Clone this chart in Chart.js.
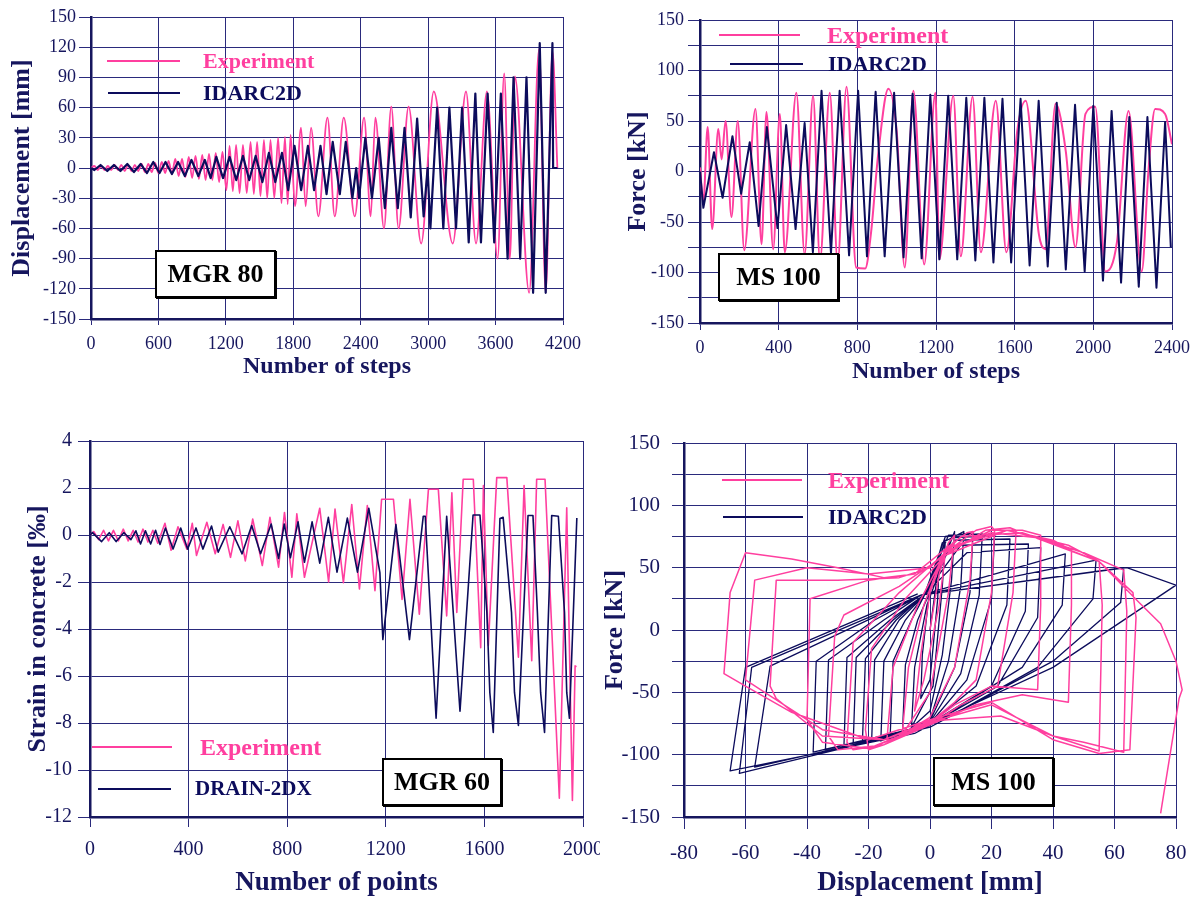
<!DOCTYPE html>
<html lang="en">
<head>
<meta charset="utf-8">
<title>MGR 80 · MS 100 · MGR 60 — experiment vs. analysis</title>
<script src="https://cdn.jsdelivr.net/npm/chart.js@4.4.1/dist/chart.umd.min.js"></script>
<style>
  body { margin: 0; background: #fff; }
  #fig { position: relative; width: 1194px; height: 897px; background: #fff; overflow: hidden;
         font-family: "Liberation Serif", "Times New Roman", serif; }
  #fig canvas { position: absolute; }
  .key-line { position: absolute; height: 2px; }
  .key-text { position: absolute; font-weight: bold; line-height: 1; white-space: nowrap; }
  .tag { position: absolute; box-sizing: border-box; border: 2px solid #000; box-shadow: 1px 1px 0 #000;
         background: #fff; display: flex; align-items: center; justify-content: center;
         font-weight: bold; font-size: 26px; color: #000; line-height: 1; }
</style>
</head>
<body>
<div id="fig">
  <canvas id="c-mgr80" width="595" height="390" style="left:0;top:0"></canvas>
  <canvas id="c-ms100" width="594" height="390" style="left:600px;top:0"></canvas>
  <canvas id="c-mgr60" width="600" height="477" style="left:0;top:420px"></canvas>
  <canvas id="c-hyst" width="594" height="477" style="left:600px;top:420px"></canvas>

  <!-- legend + tag: MGR 80 -->
  <div class="key-line" style="left:107px;top:60px;width:73px;background:#ff3f9f"></div>
  <div class="key-text" style="left:203px;top:50px;font-size:22px;color:#ff3f9f">Experiment</div>
  <div class="key-line" style="left:108px;top:92px;width:72px;background:#0c0c5c"></div>
  <div class="key-text" style="left:203px;top:82px;font-size:22px;color:#0c0c5c">IDARC2D</div>
  <div class="tag" style="left:155px;top:250px;width:121px;height:48px">MGR 80</div>

  <!-- legend + tag: MS 100 (steps) -->
  <div class="key-line" style="left:719px;top:34px;width:81px;background:#ff3f9f"></div>
  <div class="key-text" style="left:827px;top:23px;font-size:24px;color:#ff3f9f">Experiment</div>
  <div class="key-line" style="left:730px;top:63px;width:73px;background:#0c0c5c"></div>
  <div class="key-text" style="left:828px;top:53px;font-size:22px;color:#0c0c5c">IDARC2D</div>
  <div class="tag" style="left:718px;top:253px;width:121px;height:48px">MS 100</div>

  <!-- legend + tag: MGR 60 -->
  <div class="key-line" style="left:92px;top:746px;width:80px;background:#ff3f9f"></div>
  <div class="key-text" style="left:200px;top:735px;font-size:24px;color:#ff3f9f">Experiment</div>
  <div class="key-line" style="left:98px;top:788px;width:73px;background:#0c0c5c"></div>
  <div class="key-text" style="left:195px;top:778px;font-size:21px;color:#0c0c5c">DRAIN-2DX</div>
  <div class="tag" style="left:382px;top:758px;width:120px;height:48px">MGR 60</div>

  <!-- legend + tag: MS 100 (hysteresis) -->
  <div class="key-line" style="left:722px;top:479px;width:80px;background:#ff3f9f"></div>
  <div class="key-text" style="left:828px;top:468px;font-size:24px;color:#ff3f9f">Experiment</div>
  <div class="key-line" style="left:723px;top:516px;width:80px;background:#0c0c5c"></div>
  <div class="key-text" style="left:828px;top:506px;font-size:22px;color:#0c0c5c">IDARC2D</div>
  <div class="tag" style="left:933px;top:757px;width:121px;height:49px">MS 100</div>
</div>

<script>
/* =========================================================
   Four panels: displacement / force / concrete strain
   histories and the MS 100 hysteresis loops.
   Values are peaks.
   ========================================================= */

/* ---------- MGR 80: displacement [mm] vs number of steps ---------- */
const MGR80_STEPS_EXP = [0, 30, 60, 90, 120, 150, 180, 210, 240, 270, 300, 330, 360, 390, 420, 450, 480, 510, 540, 570,
  600, 630, 660, 690, 720, 750, 780, 810, 840, 870, 900, 930, 960, 990, 1020, 1050, 1080, 1110, 1140, 1170,
  1205, 1233, 1262, 1291, 1322, 1352, 1386, 1420, 1449, 1478, 1508, 1539, 1568, 1597, 1631, 1665, 1695, 1726, 1750, 1776,
  1815, 1869, 1910, 1958, 2023, 2104, 2169, 2249, 2347, 2430, 2489, 2530, 2607, 2672, 2737, 2826, 2938, 3050, 3219, 3337,
  3426, 3523, 3618, 3677, 3727, 3772, 3899, 3987, 4046, 4106, 4150];
const MGR80_DISP_EXP = [0, 2, -2, 2, -2, 2, -2, 3, -2, 3, -3, 3, -3, 3, -3, 4, -4, 4, -4, 5,
  -5, 6, -5, 7, -6, 9, -8, 9, -9, 11, -10, 12, -11, 13, -12, 14, -12, 15, -14, 16,
  -22, 22, -23, 23, -25, 23, -25, 26, -26, 26, -28, 28, -30, 28, -30, 30, -35, 31, -36, 33,
  -38, 40, -38, 40, -48, 50, -48, 50, -48, 50, -48, 50, -60, 61, -60, 61, -75, 76, -75, 76,
  -75, 76, -90, 94, -90, 91, -124, 118, -124, 116, 0];
const MGR80_STEPS_SIM = [0, 30, 85, 145, 204, 262, 323, 382, 442, 498, 554, 610, 663, 720, 775, 835, 894, 955, 1013, 1065,
  1115, 1175, 1233, 1293, 1352, 1408, 1465, 1525, 1583, 1640, 1699, 1755, 1811, 1870, 1930, 1985, 2042, 2096, 2151, 2214,
  2267, 2326, 2360, 2385, 2441, 2500, 2560, 2615, 2672, 2730, 2790, 2845, 2902, 2960, 2995, 3020, 3080, 3135, 3189, 3248,
  3302, 3361, 3420, 3470, 3529, 3588, 3647, 3707, 3760, 3819, 3875, 3934, 3993, 4046, 4106, 4112, 4150];
const MGR80_DISP_SIM = [0, -2, 3, -3, 3, -3, 4, -4, 4, -5, 6, -5, 6, -6, 6, -8, 8, -8, 8, -10,
  11, -10, 11, -12, 12, -12, 12, -14, 15, -14, 15, -22, 22, -22, 22, -22, 22, -26, 26, -26,
  26, -30, 0, -30, 30, -30, 30, -40, 40, -40, 40, -49, 49, -48, 0, -60, 60, -60, 60, -60,
  60, -74, 74, -74, 74, -74, 74, -90, 90, -90, 90, -124, 124, -124, 124, 0, 0];

/* ---------- MS 100: force [kN] vs number of steps ---------- */
const MS100_STEPS_EXP = [0, 17, 39, 62, 93, 110, 130, 160, 192, 225, 282, 313, 338, 372, 406, 431, 490, 532, 575, 610,
  660, 700, 745, 794, 840, 870, 905, 958, 1000, 1041, 1085, 1140, 1197, 1217, 1288, 1326, 1386, 1428, 1504, 1558,
  1613, 1656, 1723, 1757, 1808, 1860, 1909, 1960, 2010, 2061, 2120, 2179, 2246, 2280, 2314, 2365, 2400];
const MS100_FORCE_EXP = [4, -30, 44, -57, 42, 12, 50, -45, 50, -78, 62, -72, 59, -77, 57, -80, 78, -82, 75, -88,
  78, -90, 84, -95, -96, -60, 15, 82, 40, -95, 80, -92, 78, -87, 75, -84, 74, -80, 70, -80,
  40, 70, -62, -77, 67, 20, -75, 57, 64, -99, -70, 60, -99, 0, 62, 57, 27];
const MS100_STEPS_SIM = [0, 17, 71, 115, 165, 209, 253, 298, 340, 394, 438, 486, 532, 574, 618, 666, 710, 758, 804, 849,
  893, 939, 987, 1035, 1081, 1127, 1171, 1217, 1262, 1308, 1354, 1400, 1446, 1492, 1538, 1582, 1630, 1676, 1722, 1768,
  1814, 1860, 1907, 1956, 2000, 2049, 2093, 2141, 2183, 2231, 2275, 2321, 2365, 2394];
const MS100_FORCE_SIM = [0, -36, 19, -26, 35, -22, 29, -54, 44, -56, 46, -57, 48, -80, 80, -81, 80, -83, 80, -84,
  79, -84, 78, -85, 77, -86, 76, -87, 75, -87, 73, -88, 73, -90, 72, -90, 72, -93, 70, -94,
  68, -97, 66, -99, 65, -108, 60, -110, 54, -114, 54, -115, 49, -75];

/* ---------- MGR 60: strain in concrete [‰] vs number of points ---------- */
const MGR60_POINTS_EXP = [0, 15, 35, 55, 75, 95, 115, 135, 155, 175, 195, 215, 235, 255, 275, 304, 329, 357, 393, 415,
  432, 474, 508, 540, 570, 600, 630, 660, 699, 730, 765, 789, 819, 839, 870, 932, 968, 994, 1028, 1062,
  1093, 1125, 1156, 1183, 1231, 1266, 1298, 1336, 1373, 1413, 1447, 1468, 1488, 1514, 1555, 1585, 1596, 1616, 1650, 1691,
  1738, 1761, 1792, 1812, 1846, 1904, 1934, 1957, 1968, 1974];
const MGR60_STRAIN_EXP = [0, 0.15, -0.2, 0.2, -0.25, 0.2, -0.25, 0.25, -0.25, 0.2, -0.3, 0.25, -0.3, 0.2, -0.35, 0.5, -0.65, 0.35, -0.6, 0.5,
  -0.87, 0.54, -0.8, 0.45, -0.95, 0.6, -1.1, 0.68, -1.3, 0.75, -1.37, 0.96, -1.8, 0.9, -1.8, 1.14, -2.0, 1.1, -2.03, 1.3,
  -2.3, 1.25, -2.37, 1.52, 1.52, -2.74, 1.52, -3.37, 1.95, 1.95, -3.44, 1.8, -3.3, 2.37, 2.37, -4.8, 2.1, -4.7, 2.44, 2.44,
  -5.2, 2.1, -5.35, 2.37, 2.37, -11.2, 1.16, -11.3, -5.57, -5.6];
const MGR60_POINTS_SIM = [0, 10, 47, 78, 106, 137, 166, 186, 205, 225, 246, 266, 284, 306, 337, 368, 396, 430, 458, 493,
  520, 567, 617, 656, 692, 735, 765, 788, 813, 844, 870, 901, 932, 967, 1002, 1044, 1085, 1131, 1176, 1188,
  1241, 1296, 1352, 1360, 1404, 1447, 1501, 1554, 1582, 1610, 1622, 1636, 1663, 1676, 1710, 1722, 1738, 1777, 1797, 1815,
  1828, 1844, 1873, 1900, 1925, 1934, 1945, 1975];
const MGR60_STRAIN_SIM = [0, 0.1, -0.28, 0.1, -0.28, 0.1, -0.2, 0.18, -0.38, 0.18, -0.38, 0.2, -0.4, 0.3, -0.6, 0.3, -0.6, 0.3, -0.6, 0.38,
  -0.73, 0.35, -0.8, 0.4, -0.8, 0.47, -1.0, 0.47, -0.97, 0.56, -1.16, 0.56, -1.2, 0.75, -1.58, 0.72, -1.58, 1.14, -1.6, -4.45,
  0.45, -4.45, 0.8, 0.8, -7.8, 0.8, -7.5, 0.85, 0.85, -3.3, -6.7, -8.4, 0.7, 0.75, -3.3, -6.7, -8.1, 0.83, 0.83, -3.3,
  -6.7, -8.4, 0.83, 0.8, -3.3, -6.7, -7.8, 0.72];

/* ---------- MS 100: force [kN] vs displacement [mm], one row per loop ---------- */
const HYST_DISP_EXP = [
  0,
  3, 5, 3, -2, -5, -3, 0,
  6, 8, 6, 0, -8, -9, -7, -2,
  5, 12, 14, 13, 8, 0, -12, -14, -12, -4,
  5, 15, 20, 21, 20, 15, 8, 0, -15, -20, -21, -19, -8,
  5, 18, 26, 28, 27, 22, 10, 0, -15, -25, -27, -25, -10,
  5, 20, 30, 36, 36, 35, 20, 8, 0, -18, -30, -33, -31, -28, -10,
  5, 25, 40, 46, 46, 45, 30, 15, 0, -20, -35, -40, -39, -20, -5,
  5, 25, 45, 55, 56, 55, 40, 20, 0, -15, -35, -50, -52, -50, -30, -10, 0,
  10, 30, 50, 63, 64, 63, 50, 40, 23, 0, -15, -35, -55, -60, -57, -40, -20, 0,
  10, 30, 55, 66, 67, 65, 55, 40, 20, 0, -20, -45, -60, -67, -65, -60, -45, -30, -15, -5, 5,
  20, 35, 55, 68, 75, 80, 82, 81, 75];
const HYST_FORCE_EXP = [
  0,
  45, 62, 20, -40, -65, -20, 30,
  70, 76, 30, -50, -80, -82, -30, 20,
  65, 78, 79, 40, -30, -70, -88, -88, -30, 20,
  62, 80, 83, 80, 30, -40, -58, -74, -92, -96, -80, -15, 25,
  60, 80, 82, 80, 30, -45, -60, -76, -92, -96, -90, -10, 30,
  62, 80, 80, 76, 20, -48, -45, -60, -75, -93, -96, -85, -5, 12, 35,
  60, 80, 72, 64, 20, -58, -52, -60, -76, -95, -90, -72, 25, 40, 45,
  65, 80, 68, 55, 20, -97, -85, -60, -74, -88, -85, -55, -45, 40, 40, 42, 50,
  75, 78, 62, 48, 15, -98, -90, -85, -69, -73, -88, -80, -48, -40, 40, 50, 45, 50,
  75, 78, 55, 30, 10, -96, -99, -88, -58, -72, -88, -66, -45, -35, 30, 62, 57, 50, 42, 45, 65,
  78, 74, 55, 22, 5, -25, -48, -55, -147];
const HYST_DISP_SIM = [
  0,
  3, 2.5, 0, -3, -2.5, 0,
  5, 4, 1, -6, -5, -1,
  8, 7, 4, 0, -9, -8, -4, -1,
  4, 11, 10, 6, 0, -13, -12, -6, -2,
  5, 14, 13, 8, 0, -16, -15, -8, -2,
  6, 17, 16, 10, 0, -19, -18, -10, -2,
  7, 21, 20, 12, 0, -22, -21, -11, -2,
  8, 26, 25, 15, 0, -25, -24, -12, -2,
  10, 32, 31, 20, 0, -28, -27, -13, -2,
  12, 36, 35, 22, 0, -34, -33, -15, -3,
  44, 43, 30, 0, -38, -37, -18, -3,
  54, 53, 35, 0, -57, -52, -3,
  63, 62, 40, 0, -62, -58, -3,
  64, 80, 40, 4, -5, -65, -60, -4];
const HYST_FORCE_SIM = [
  0,
  55, 25, -40, -55, -20, 35,
  72, 35, -45, -78, -30, 20,
  79, 40, -20, -65, -85, -28, 8, 25,
  70, 79, 35, -25, -72, -88, -25, 8, 27,
  75, 78, 30, -30, -73, -89, -25, 8, 27,
  76, 77, 28, -35, -74, -90, -24, 8, 27,
  74, 76, 25, -40, -75, -91, -23, 8, 28,
  72, 73, 20, -45, -75, -92, -22, 8, 28,
  68, 69, 15, -45, -75, -94, -22, 8, 28,
  62, 66, 10, -45, -76, -96, -24, 8, 28,
  61, 20, -30, -76, -98, -25, 8, 28,
  56, 25, -30, -78, -110, -29, 28,
  50, 22, -25, -78, -115, -30, 28,
  50, 36, -30, -71, -83, -113, -30, 29];

/* ---------- estilo ---------- */
const SERIF = "'Liberation Serif', 'Times New Roman', serif";
const COLORS = {
  exp: "#ff3f9f",
  sim: "#0c0c5c",
  ink: "#16165e",
  grid: "#2a2a7c",
};

function pts(xs, ys) {
  return xs.map((x, i) => ({ x, y: ys[i] }));
}

/* ---------- eje genérico con tamaño fijo ---------- */
function axis(cfg) {
  const bottom = cfg.position === "bottom";
  return {
    type: "linear",
    position: cfg.position,
    min: cfg.min,
    max: cfg.max,
    border: { color: COLORS.ink, width: 2.5 },
    grid: { color: COLORS.grid, lineWidth: 1, tickLength: cfg.tickLength },
    ticks: {
      stepSize: cfg.step,
      autoSkip: false,
      maxRotation: 0,
      color: COLORS.ink,
      padding: cfg.tickPad,
      font: { family: SERIF, size: cfg.tickSize, lineHeight: 1.2 },
      callback: (v) => (cfg.labelEvery && v % cfg.labelEvery !== 0 ? "" : String(v)),
    },
    title: {
      display: true,
      text: cfg.title,
      color: COLORS.ink,
      font: { family: SERIF, size: cfg.titleSize, weight: "bold", lineHeight: 1 },
      padding: bottom ? { top: 0, bottom: cfg.titlePad } : { top: cfg.titlePad, bottom: 0 },
    },
    afterFit: (s) => {
      if (bottom) {
        s.height = cfg.size;
        s.paddingLeft = 0;
        s.paddingRight = 0;
      } else {
        s.width = cfg.size;
        s.paddingTop = 0;
        s.paddingBottom = 0;
      }
    },
  };
}

function line(xs, ys, color, width, opts = {}) {
  return {
    data: pts(xs, ys),
    borderColor: color,
    borderWidth: width,
    borderJoinStyle: "round",
    pointRadius: 0,
    tension: opts.smooth ? 0.4 : 0,
    cubicInterpolationMode: opts.smooth ? "monotone" : "default",
    fill: false,
    clip: opts.clip || 0,
  };
}

function makeChart(id, datasets, pad, xAxis, yAxis) {
  return new Chart(document.getElementById(id), {
    type: "line",
    data: { datasets },
    options: {
      responsive: false,
      animation: false,
      events: [],
      layout: { padding: { top: pad.top, right: pad.right, left: 0, bottom: 0 } },
      plugins: { legend: { display: false }, tooltip: { enabled: false } },
      scales: { x: axis(xAxis), y: axis(yAxis) },
    },
  });
}

/* ---------- paneles ---------- */
makeChart(
  "c-mgr80",
  [
    line(MGR80_STEPS_SIM, MGR80_DISP_SIM, COLORS.sim, 2.2),
    line(MGR80_STEPS_EXP, MGR80_DISP_EXP, COLORS.exp, 1.8, { smooth: true }),
  ],
  { top: 17, right: 32 },
  { position: "bottom", min: 0, max: 4200, step: 600, size: 71, tickLength: 6, tickPad: 8, tickSize: 18,
    title: "Number of steps", titleSize: 24, titlePad: 11 },
  { position: "left", min: -150, max: 150, step: 30, size: 91, tickLength: 12, tickPad: 3, tickSize: 18,
    title: "Displacement [mm]", titleSize: 26, titlePad: 9 }
);

makeChart(
  "c-ms100",
  [
    line(MS100_STEPS_SIM, MS100_FORCE_SIM, COLORS.sim, 2),
    line(MS100_STEPS_EXP, MS100_FORCE_EXP, COLORS.exp, 2, { smooth: true }),
  ],
  { top: 20, right: 22 },
  { position: "bottom", min: 0, max: 2400, step: 400, size: 67, tickLength: 7, tickPad: 7, tickSize: 18,
    title: "Number of steps", titleSize: 24, titlePad: 6 },
  { position: "left", min: -150, max: 150, step: 25, labelEvery: 50, size: 100, tickLength: 12, tickPad: 4, tickSize: 18,
    title: "Force [kN]", titleSize: 26, titlePad: 25 }
);

makeChart(
  "c-mgr60",
  [
    line(MGR60_POINTS_SIM, MGR60_STRAIN_SIM, COLORS.sim, 1.6),
    line(MGR60_POINTS_EXP, MGR60_STRAIN_EXP, COLORS.exp, 1.6),
  ],
  { top: 21, right: 17 },
  { position: "bottom", min: 0, max: 2000, step: 400, size: 80, tickLength: 10, tickPad: 11, tickSize: 20,
    title: "Number of points", titleSize: 27, titlePad: 0 },
  { position: "left", min: -12, max: 4, step: 2, size: 90, tickLength: 12, tickPad: 6, tickSize: 20,
    title: "Strain in concrete [‰]", titleSize: 26, titlePad: 25 }
);

makeChart(
  "c-hyst",
  [
    line(HYST_DISP_EXP, HYST_FORCE_EXP, COLORS.exp, 1.5, { clip: 8 }),
    line(HYST_DISP_SIM, HYST_FORCE_SIM, COLORS.sim, 1.3),
  ],
  { top: 23, right: 18 },
  { position: "bottom", min: -80, max: 80, step: 20, size: 80, tickLength: 12, tickPad: 12, tickSize: 21,
    title: "Displacement [mm]", titleSize: 27, titlePad: 0 },
  { position: "left", min: -150, max: 150, step: 25, labelEvery: 50, size: 84, tickLength: 12, tickPad: 12, tickSize: 21,
    title: "Force [kN]", titleSize: 26, titlePad: 2 }
);
</script>
</body>
</html>
